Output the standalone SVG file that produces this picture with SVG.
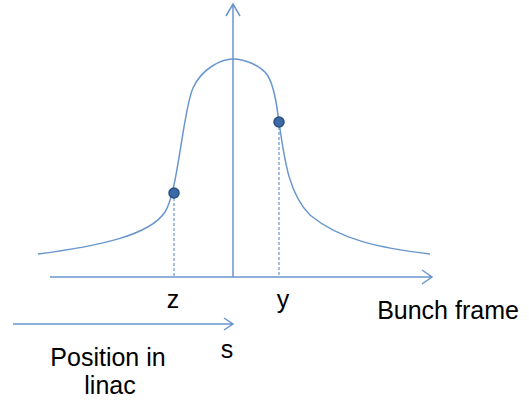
<svg xmlns="http://www.w3.org/2000/svg" width="529" height="406" viewBox="0 0 529 406">
<style>
.ln{stroke:#6A96CE;stroke-width:1.5;fill:none}
.ds{stroke:#4F7FC0;stroke-width:1;fill:none;stroke-dasharray:3,2}
.dot{fill:#3B6AA8;stroke:#2A4F80;stroke-width:1.5}
text{font-family:"Liberation Sans",Arial,sans-serif;font-size:25px;fill:#000}
</style>
<rect width="529" height="406" fill="#fff"/>
<g id="connectors">
<path class="ln" d="M233,277 V4 M226,16 L233,4 L240,16"/>
<path class="ln" d="M50,277 H432 M422,270 L432,277 L422,284"/>
<path class="ln" d="M13,324 H233 M224,318 L233,324 L224,330"/>
<path class="ds" d="M174,193 V277 M279,122 V277"/>
</g>
<g id="curve">
<path class="ln" d="M38,254 C100,246 150,235 165,212 C178,192 183,110 193,88 C202,68 222,59 233,59 C245,59 262,66 268,76 C276,90 277,110 279,122 C285,165 290,195 310,215 C340,240 380,248 430,254"/>
</g>
<g id="point-z"><circle class="dot" cx="174" cy="193" r="5"/></g>
<g id="point-y"><circle class="dot" cx="279" cy="122" r="5"/></g>
<g id="labels">
<text x="173" y="308" text-anchor="middle">z</text>
<text x="283" y="308" text-anchor="middle">y</text>
<text x="448" y="319" text-anchor="middle">Bunch frame</text>
<text x="227" y="358" text-anchor="middle">s</text>
<text x="108" y="366" text-anchor="middle">Position in</text>
<text x="110" y="394" text-anchor="middle">linac</text>
</g>
</svg>
